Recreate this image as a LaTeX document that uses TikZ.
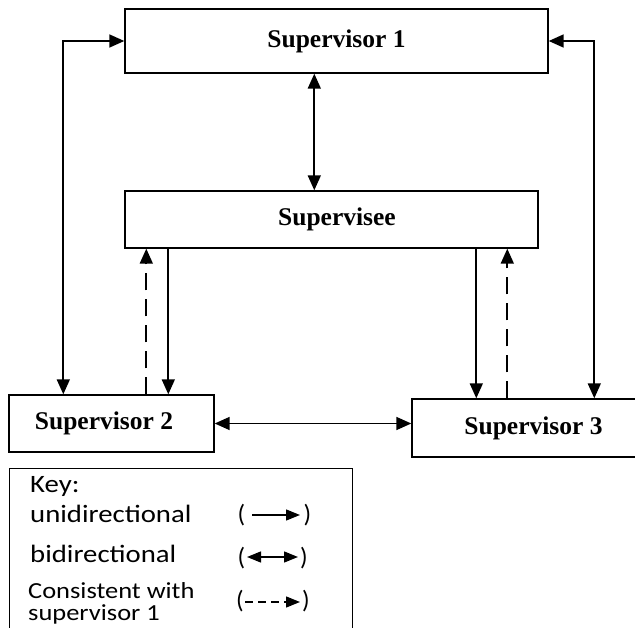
\documentclass[tikz,border=0pt]{standalone}
\usepackage{fontspec}
\setmainfont{Liberation Serif}
\newfontfamily\keyfont{Carlito}
\usetikzlibrary{arrows.meta,calc}
\begin{document}
\begin{tikzpicture}[x=1pt,y=-1pt,
  box/.style={draw, line width=1.4pt, inner sep=0pt, font=\fontsize{25.5}{30}\selectfont\bfseries},
  conn/.style={line width=1.7pt, -{Triangle[length=15pt,width=13pt]}},
  biconn/.style={line width=1.7pt, {Triangle[length=15pt,width=13pt]}-{Triangle[length=15pt,width=13pt]}},
  dconn/.style={conn, dash pattern=on 17pt off 9pt},
  keytxt/.style={anchor=base west, inner sep=0pt, font=\keyfont\fontsize{25}{30}\selectfont},
  keysmall/.style={anchor=base west, inner sep=0pt, font=\keyfont\fontsize{23}{28}\selectfont},
  paren/.style={inner sep=0pt, font=\keyfont\fontsize{25}{30}\selectfont},
  kconn/.style={line width=1.4pt, -{Triangle[length=14pt,width=11pt]}},
  kbiconn/.style={line width=1.4pt, {Triangle[length=14pt,width=11pt]}-{Triangle[length=14pt,width=11pt]}},
  kdconn/.style={kconn, dash pattern=on 8pt off 5pt},
]
\useasboundingbox (0,0) rectangle (635,628);
\clip (0,0) rectangle (635,628);

% boxes
\node[box, minimum width=423pt, minimum height=64pt] (s1) at (336.5,41) {Supervisor 1};
\node[box, minimum width=413pt, minimum height=57pt] (se) at (331.5,219.5) {\hspace*{11pt}Supervisee};
\node[box, minimum width=205pt, minimum height=57pt] (s2) at (111.5,423.5) {\hspace*{-15pt}Supervisor 2};
\node[box, minimum width=228pt, minimum height=58pt] (s3) at (526,428) {\hspace*{15pt}Supervisor 3};

% helper coordinates
\coordinate (a1) at ([xshift=44pt]se.south west);
\coordinate (a2) at ([xshift=22pt]se.south west);
\coordinate (a3) at ([xshift=352pt]se.south west);
\coordinate (a4) at ([xshift=383pt]se.south west);
\coordinate (lx) at ([xshift=55pt]s2.north west);
\coordinate (rx) at ([xshift=183pt]s3.north west);
\coordinate (m1) at ([xshift=190pt]s1.south west);
\coordinate (m2) at ([xshift=190pt]se.north west);

% connectors
\draw[biconn] (s1.west) -| (lx);
\draw[biconn] (s1.east) -| (rx);
\draw[biconn] (m1) -- (m2);
\draw[conn] (a1) -- (a1 |- s2.north);
\draw[dconn] (a2 |- s2.north) -- (a2);
\draw[conn] (a3) -- (a3 |- s3.north);
\draw[dconn] (a4 |- s3.north) -- (a4);
\draw[biconn] (s2.east) -- (s2.east -| s3.west);

% key
\node[draw, line width=1.3pt, inner sep=0pt, minimum width=343pt, minimum height=190pt, anchor=north west] (key) at (9,468) {};
\node[keytxt] (k0) at (30,492) {\scalebox{1.15}[1]{Key:}};
\node[keytxt] (k1) at (30,522) {\scalebox{1.15}[1]{unidirectional}};
\node[keytxt] (k2) at (30,562) {\scalebox{1.15}[1]{bidirectional}};
\node[keysmall] (k3) at (28,598) {\scalebox{1.15}[1]{Consistent with}};
\node[keysmall] (k4) at (28,620) {\scalebox{1.15}[1]{supervisor 1}};

\node[paren] (p1l) at (241.5,515) {(};
\node[paren] (p1r) at (307.5,515) {)};
\node[paren] (p2l) at (241.5,558) {(};
\node[paren] (p2r) at (304,558) {)};
\node[paren] (p3l) at (240,601) {(};
\node[paren] (p3r) at (306,601) {)};

\coordinate (u1) at (252,515);
\coordinate (u2) at (300,515);
\coordinate (b1) at (247,557);
\coordinate (b2) at (298,557);
\coordinate (d1) at (245,602);
\coordinate (d2) at (300,602);
\draw[kconn] (u1) -- (u2);
\draw[kbiconn] (b1) -- (b2);
\draw[kdconn] (d1) -- (d2);
\end{tikzpicture}
\end{document}
